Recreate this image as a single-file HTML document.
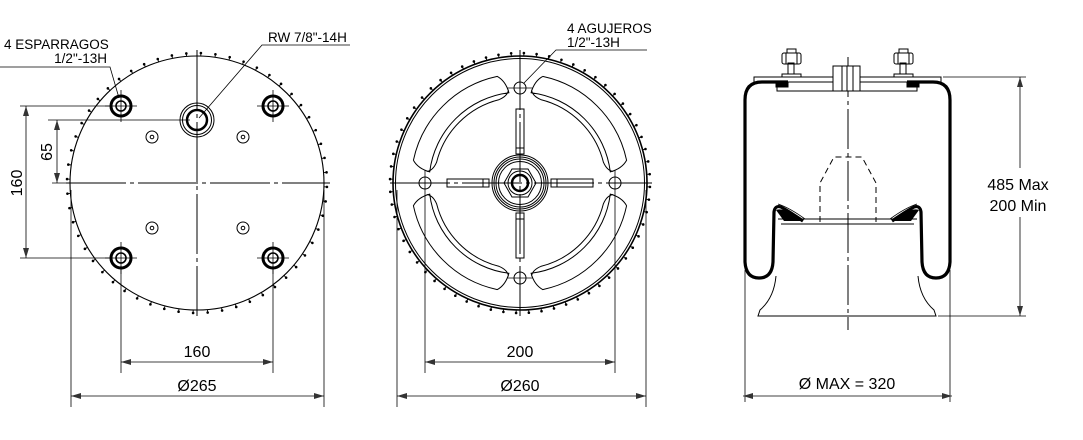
<!DOCTYPE html>
<html><head><meta charset="utf-8"><style>
html,body{margin:0;padding:0;background:#fff;}
svg{display:block;}
text{font-family:"Liberation Sans",Arial,sans-serif;fill:#000;}
</style></head><body>
<svg id="s" width="1083" height="440" viewBox="0 0 1083 440" xmlns="http://www.w3.org/2000/svg">
<defs>
<marker id="a" viewBox="0 0 10 6" refX="10" refY="3" markerWidth="10" markerHeight="6" orient="auto-start-reverse" markerUnits="userSpaceOnUse"><path d="M0,0 L10,3 L0,6 z" fill="#333"/></marker>
</defs>
<g fill="none" stroke="#000" stroke-width="1">
<!-- ===== LEFT VIEW ===== -->
<circle cx="197" cy="183" r="127" stroke-width="1.1"/>
<g id="t1"></g>
<line x1="66" y1="183" x2="330" y2="183" stroke-dasharray="60,4,4,4"/>
<line x1="197" y1="50" x2="197" y2="316" stroke-dasharray="60,4,4,4"/>
<g stroke-width="3"><circle cx="121" cy="106" r="10"/><circle cx="273" cy="106" r="10"/><circle cx="121" cy="258" r="10"/><circle cx="273" cy="258" r="10"/></g>
<g stroke-width="1.6"><circle cx="121" cy="106" r="5"/><circle cx="273" cy="106" r="5"/><circle cx="121" cy="258" r="5"/><circle cx="273" cy="258" r="5"/></g>
<g stroke-width="0.8">
<path d="M105,106h32M121,90v32M257,106h32M273,90v32M105,258h32M121,242v32M257,258h32M273,242v32"/>
</g>
<circle cx="197" cy="120" r="17"/><circle cx="197" cy="120" r="14.5"/><circle cx="197" cy="120" r="10" stroke-width="2.5"/>
<circle cx="152" cy="137" r="6"/><circle cx="152" cy="137" r="1.8"/>
<circle cx="243" cy="137" r="6"/><circle cx="243" cy="137" r="1.8"/>
<circle cx="152" cy="228" r="6"/><circle cx="152" cy="228" r="1.8"/>
<circle cx="243" cy="228" r="6"/><circle cx="243" cy="228" r="1.8"/>
<line x1="20" y1="106" x2="110" y2="106" stroke-width="0.8"/>
<line x1="20" y1="258" x2="110" y2="258" stroke-width="0.8"/>
<line x1="26" y1="106" x2="26" y2="258" stroke-width="0.8" marker-start="url(#a)" marker-end="url(#a)"/>
<line x1="48" y1="120" x2="190" y2="120" stroke-width="0.8"/>
<line x1="52" y1="183" x2="70" y2="183" stroke-width="0.8"/>
<line x1="57" y1="120" x2="57" y2="183" stroke-width="0.8" marker-start="url(#a)" marker-end="url(#a)"/>
<line x1="121" y1="266" x2="121" y2="373" stroke-width="0.8"/>
<line x1="273" y1="266" x2="273" y2="373" stroke-width="0.8"/>
<line x1="121" y1="362" x2="273" y2="362" stroke-width="0.8" marker-start="url(#a)" marker-end="url(#a)"/>
<line x1="71" y1="190" x2="71" y2="407" stroke-width="0.8"/>
<line x1="324" y1="190" x2="324" y2="407" stroke-width="0.8"/>
<line x1="71" y1="396" x2="324" y2="396" stroke-width="0.8" marker-start="url(#a)" marker-end="url(#a)"/>
<polyline points="0,67 110,67 119,98" stroke-width="0.8"/>
<polyline points="350,45 262,45 199,118" stroke-width="0.8"/>

<!-- ===== MIDDLE VIEW ===== -->
<circle cx="520" cy="183" r="127" stroke-width="1.6"/>
<circle cx="520" cy="183" r="124.5" stroke-width="1"/>
<g id="t2"></g>
<line x1="390" y1="183" x2="652" y2="183" stroke-dasharray="60,4,4,4"/>
<line x1="520" y1="50" x2="520" y2="316" stroke-dasharray="60,4,4,4"/>
<g id="seg"></g>
<circle cx="520" cy="88" r="6"/><circle cx="520" cy="278" r="6"/><circle cx="425" cy="183" r="6"/><circle cx="615" cy="183" r="6"/>
<path d="M507,88h26M507,278h26M425,170v26M615,170v26" stroke-width="0.8"/>
<rect x="516" y="109" width="8" height="45"/><line x1="516" y1="148" x2="524" y2="148"/>
<rect x="516" y="213" width="8" height="45"/><line x1="516" y1="219" x2="524" y2="219"/>
<rect x="447" y="179" width="42" height="8"/><line x1="483" y1="179" x2="483" y2="187"/>
<rect x="551" y="179" width="42" height="8"/><line x1="557" y1="179" x2="557" y2="187"/>
<circle cx="520" cy="183" r="28"/><circle cx="520" cy="183" r="26"/><circle cx="520" cy="183" r="24"/><circle cx="520" cy="183" r="21.5"/>
<polygon points="536,183 528,197 512,197 504,183 512,169 528,169"/>
<circle cx="520" cy="183" r="12"/><circle cx="520" cy="183" r="8" stroke-width="2.5"/>
<line x1="425" y1="196" x2="425" y2="373" stroke-width="0.8"/>
<line x1="615" y1="196" x2="615" y2="373" stroke-width="0.8"/>
<line x1="425" y1="362" x2="615" y2="362" stroke-width="0.8" marker-start="url(#a)" marker-end="url(#a)"/>
<line x1="397" y1="190" x2="397" y2="407" stroke-width="0.8"/>
<line x1="646" y1="190" x2="646" y2="407" stroke-width="0.8"/>
<line x1="397" y1="396" x2="646" y2="396" stroke-width="0.8" marker-start="url(#a)" marker-end="url(#a)"/>
<polyline points="647,50 556,50 524,83" stroke-width="0.8"/>

<!-- ===== RIGHT VIEW ===== -->
<line x1="848" y1="57" x2="848" y2="330" stroke-dasharray="40,4,4,4"/>
<rect x="754" y="77" width="187" height="5"/>
<rect x="777" y="82" width="140" height="9"/>
<rect x="833" y="66" width="27" height="25" fill="#fff"/>
<line x1="842" y1="66" x2="842" y2="91"/><line x1="847" y1="66" x2="847" y2="91"/><line x1="853" y1="66" x2="853" y2="91"/>
<rect x="782" y="74" width="19" height="3"/><rect x="788" y="63" width="6" height="11"/><rect x="782" y="53" width="19" height="11" rx="2"/><line x1="786" y1="53" x2="786" y2="64"/><line x1="797" y1="53" x2="797" y2="64"/><rect x="787" y="49" width="9" height="4"/>
<rect x="894" y="74" width="19" height="3"/><rect x="900" y="63" width="6" height="11"/><rect x="894" y="53" width="19" height="11" rx="2"/><line x1="898" y1="53" x2="898" y2="64"/><line x1="909" y1="53" x2="909" y2="64"/><rect x="899" y="49" width="9" height="4"/>
<rect x="776" y="82" width="12" height="5" fill="#000"/><rect x="907" y="82" width="12" height="5" fill="#000"/>
<path d="M788,82 H762 Q745,82 745,100 V262 Q746,278 759,278 Q772,278 773,262 L774,212 Q775,205 781,207 Q790,212 803,221" stroke-width="3.2"/>
<path d="M907,82 H933 Q950,82 950,100 V262 Q949,278 936,278 Q923,278 922,262 L921,212 Q920,205 914,207 Q905,212 892,221" stroke-width="3.2"/>
<path d="M776,210 Q782,208 790,213 L801,221 L784,221 Z" fill="#000" stroke="none"/>
<path d="M919,210 Q913,208 905,213 L894,221 L911,221 Z" fill="#000" stroke="none"/>
<path d="M778,204 Q790,208 805,219" stroke-width="0.8"/>
<path d="M917,204 Q905,208 890,219" stroke-width="0.8"/>
<line x1="778" y1="219" x2="917" y2="219"/><line x1="781" y1="224" x2="914" y2="224"/>
<path d="M776,276 Q774,298 760,310 L758,316 H936 L934,310 Q920,298 918,276" stroke-width="1"/>
<path d="M820,222 V183 L834,157 H862 L876,183 V222" stroke-dasharray="6,4"/>
<line x1="943" y1="77" x2="1026" y2="77" stroke-width="0.8"/>
<line x1="938" y1="316" x2="1026" y2="316" stroke-width="0.8"/>
<line x1="1020" y1="77" x2="1020" y2="168" stroke-width="0.8" marker-start="url(#a)"/>
<line x1="1020" y1="217" x2="1020" y2="316" stroke-width="0.8" marker-end="url(#a)"/>
<line x1="745" y1="270" x2="745" y2="402" stroke-width="0.8"/>
<line x1="950" y1="270" x2="950" y2="402" stroke-width="0.8"/>
<line x1="743" y1="396" x2="952" y2="396" stroke-width="0.8" marker-start="url(#a)" marker-end="url(#a)"/>
</g>
<g font-size="13.5">
<text x="4" y="49">4 ESPARRAGOS</text>
<text x="107" y="63" text-anchor="end">1/2"-13H</text>
<text x="268" y="42">RW 7/8"-14H</text>
<text x="567" y="33">4 AGUJEROS</text>
<text x="567" y="47">1/2"-13H</text>
</g>
<g font-size="16">
<text transform="translate(22,183) rotate(-90)" text-anchor="middle">160</text>
<text transform="translate(52,152) rotate(-90)" text-anchor="middle">65</text>
<text x="197" y="357" text-anchor="middle">160</text>
<text x="197" y="391" text-anchor="middle">Ø265</text>
<text x="520" y="357" text-anchor="middle">200</text>
<text x="520" y="391" text-anchor="middle">Ø260</text>
<text x="847" y="389" text-anchor="middle">Ø MAX = 320</text>
<text x="1018" y="190" text-anchor="middle">485 Max</text>
<text x="1018" y="211" text-anchor="middle">200 Min</text>
</g>
</svg>
<script>
(function(){
var NS="http://www.w3.org/2000/svg";
function ticks(id,cx,cy,r,n,len){
 var g=document.getElementById(id);
 for(var i=0;i<n;i++){
  var a=i*2*Math.PI/n+0.03;
  var x1=cx+r*Math.cos(a),y1=cy+r*Math.sin(a),x2=cx+(r+len)*Math.cos(a),y2=cy+(r+len)*Math.sin(a);
  var l=document.createElementNS(NS,"line");
  l.setAttribute("x1",x1);l.setAttribute("y1",y1);l.setAttribute("x2",x2);l.setAttribute("y2",y2);
  l.setAttribute("stroke-width","0.9");g.appendChild(l);
  var c=document.createElementNS(NS,"circle");
  c.setAttribute("cx",x2);c.setAttribute("cy",y2);c.setAttribute("r","0.8");c.setAttribute("fill","#000");g.appendChild(c);
 }
}
ticks("t1",197,183,127,56,3);
ticks("t2",520,183,127,64,3);
var g=document.getElementById("seg"),cx=520,cy=183,R1=109,R2=91,R3=86;
function P(r,deg){var a=deg*Math.PI/180;return (cx+r*Math.cos(a)).toFixed(1)+","+(cy+r*Math.sin(a)).toFixed(1);}
var d="";
for(var k=0;k<4;k++){
 var s=k*90+12,e=k*90+78;
 d+="M"+P(R1,s)+" A"+R1+","+R1+" 0 0 1 "+P(R1,e)+" Q"+P(R1-6,e+4)+" "+P(R2,e+5)+" A"+R2+","+R2+" 0 0 0 "+P(R2,s-5)+" Q"+P(R1-6,s-4)+" "+P(R1,s)+" ";
 var s3=k*90+14,e3=k*90+76;
 d+="M"+P(R3,s3)+" A"+R3+","+R3+" 0 0 1 "+P(R3,e3)+" ";
}
for(var k=0;k<4;k++){
 var c=k*90;
 d+="M"+P(R3,c-14)+" Q"+P(R3+2,c-8)+" "+P(R3+8,c-7)+" M"+P(R3,c+14)+" Q"+P(R3+2,c+8)+" "+P(R3+8,c+7)+" ";
}
var p=document.createElementNS(NS,"path");p.setAttribute("d",d);g.appendChild(p);
})();
</script>
</body></html>
